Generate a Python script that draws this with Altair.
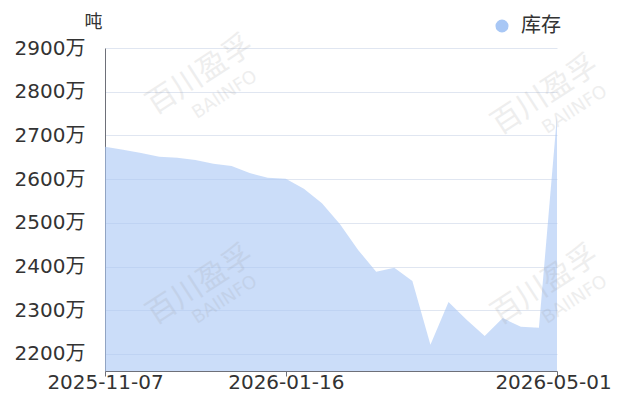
import altair as alt
import pandas as pd

dates = [
    "2025-11-07", "2025-11-14", "2025-11-21", "2025-11-28", "2025-12-05",
    "2025-12-12", "2025-12-19", "2025-12-26", "2026-01-02", "2026-01-09",
    "2026-01-16", "2026-01-23", "2026-01-30", "2026-02-06", "2026-02-13",
    "2026-02-20", "2026-02-27", "2026-03-06", "2026-03-13", "2026-03-20",
    "2026-03-27", "2026-04-03", "2026-04-10", "2026-04-17", "2026-04-24",
    "2026-05-01",
]
stock = [
    2674, 2667, 2660, 2651, 2649,
    2644, 2635, 2630, 2614, 2603,
    2601, 2578, 2545, 2497, 2438,
    2388, 2397, 2367, 2221, 2319,
    2278, 2241, 2282, 2262, 2260,
    2745,
]
y_ticks = [2200, 2300, 2400, 2500, 2600, 2700, 2800, 2900]
x_ticks = ["2025-11-07", "2026-01-16", "2026-05-01"]
series_name = "库存"

wm_text = ["百川盈孚", "BAIINFO"] * 4
wm_x = [95, 120, 440, 470, 95, 120, 440, 470]
wm_y = [27, 47, 47, 62, 237, 252, 237, 252]
wm_size = [30, 18] * 4

df = pd.DataFrame({"date": dates, "value": stock, "series": series_name})
wm_df = pd.DataFrame({"t": wm_text, "x": wm_x, "y": wm_y, "s": wm_size})

FONT = "DejaVu Sans, Noto Sans CJK SC"
CJK = "Noto Sans CJK SC"

area = alt.Chart(df).mark_area(opacity=0.6, line=False, clip=True).encode(
    x=alt.X(
        "date:T",
        scale=alt.Scale(type="utc", domain=[x_ticks[0], x_ticks[-1]]),
        axis=alt.Axis(
            values=x_ticks,
            labelExpr="utcFormat(datum.value, '%Y-%m-%d')",
            title=None,
            grid=False,
            domainColor="#6e7079",
            tickColor="#6e7079",
            tickSize=5,
            labelFontSize=20,
            labelColor="#333333",
            labelFont=FONT,
            labelBaseline="alphabetic",
            labelPadding=12,
            labelFlush=False,
            labelOverlap=False,
            labelOffset=alt.condition(
                "datum.value >= datetime('2026-04-30')", alt.value(-4), alt.value(0)
            ),
        ),
    ),
    y=alt.Y(
        "value:Q",
        scale=alt.Scale(domain=[2161, 2900], zero=False, nice=False),
        axis=alt.Axis(
            values=y_ticks,
            labelExpr="datum.value + '万'",
            title="吨",
            titleAngle=0,
            titleX=-12,
            titleY=-26,
            titleAlign="center",
            titleBaseline="middle",
            titleFontSize=18,
            titleFontWeight="normal",
            titleColor="#333333",
            titleFont=CJK,
            grid=True,
            gridColor="#e0e6f1",
            domainColor="#6e7079",
            ticks=False,
            labelFontSize=20,
            labelColor="#333333",
            labelFont=FONT,
            labelPadding=20,
        ),
    ),
    color=alt.Color(
        "series:N",
        scale=alt.Scale(range=["#a8c7f5"]),
        legend=alt.Legend(
            title=None,
            orient="none",
            legendX=387,
            legendY=-32,
            symbolType="circle",
            symbolSize=170,
            symbolOpacity=1,
            symbolStrokeWidth=0,
            labelFontSize=20,
            labelColor="#333333",
            labelFont=CJK,
            labelOffset=9,
        ),
    ),
)

watermark = alt.Chart(wm_df).mark_text(
    angle=327, color="#999999", opacity=0.16, font=FONT
).encode(
    x=alt.X("x:Q", scale=None),
    y=alt.Y("y:Q", scale=None),
    text="t:N",
    size=alt.Size("s:Q", scale=None, legend=None),
)

chart = alt.layer(area, watermark).properties(
    width=452,
    height=323,
    background="white",
    autosize=alt.AutoSizeParams(type="none"),
    padding={"left": 97, "top": 40, "right": 57, "bottom": 22},
).configure_view(stroke=None)

chart.save("out.html", embed_options={"renderer": "svg", "actions": False})
